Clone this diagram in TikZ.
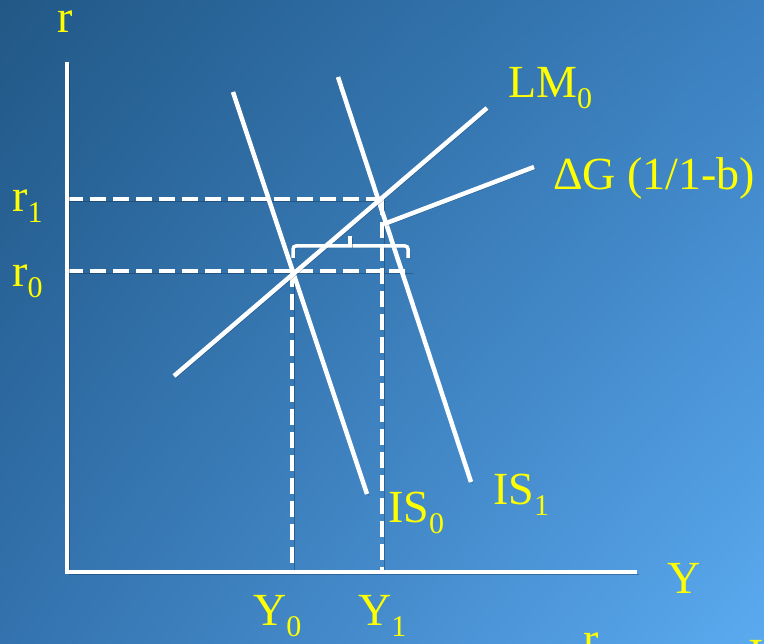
\documentclass[tikz,border=0pt]{standalone}
\usepackage{fontspec}
\setmainfont{Liberation Serif}
\usetikzlibrary{shadings}
\definecolor{bgTL}{HTML}{215886}
\definecolor{bgTR}{HTML}{3B80C0}
\definecolor{bgBL}{HTML}{3372AE}
\definecolor{bgBR}{HTML}{5BAAF0}
\definecolor{lab}{HTML}{FFFF00}
\definecolor{shd}{HTML}{0A2440}
\newcommand{\bigtxt}{\fontsize{46}{46}\selectfont}
\newcommand{\sbs}[1]{\raisebox{-11pt}{\fontsize{30}{30}\selectfont #1}}
\begin{document}
\begin{tikzpicture}[x=1pt,y=-1pt,
  curve/.style={draw=white,line width=4.5pt},
  guide/.style={draw=white,line width=4.5pt,dash pattern=on 16pt off 7pt},
  shadowed/.style={preaction={draw=shd,draw opacity=0.35,transform canvas={shift={(2pt,-2pt)}}}},
  lbl/.style={text=lab,font=\bigtxt,inner sep=0pt,anchor=base west}]
\useasboundingbox (0,0) rectangle (764,644);
\shade[upper left=bgTL,upper right=bgTR,lower left=bgBL,lower right=bgBR] (0,0) rectangle (764,644);
% coordinates
\coordinate (ytop) at (67,62);
\coordinate (org) at (67,572);
\coordinate (xend) at (637,572);
\coordinate (is0a) at (233,92);
\coordinate (is0b) at (367,494);
\coordinate (is1a) at (338,77);
\coordinate (is1b) at (471,482);
\coordinate (lma) at (174,376);
\coordinate (lmb) at (487,108);
\coordinate (dga) at (384,224);
\coordinate (dgb) at (534,167);
\coordinate (r1a) at (67,199);
\coordinate (r1b) at (383,199);
\coordinate (r0a) at (67,271);
\coordinate (r0b) at (411,271);
\coordinate (y0a) at (292,271);
\coordinate (y0b) at (292,572);
\coordinate (y1a) at (382,199);
\coordinate (y1b) at (382,572);
\coordinate (bl) at (293,258);
\coordinate (br) at (408,258);
\coordinate (bm) at (350,246);
\coordinate (bt) at (350,236);
% guides
\draw[guide,shadowed] (r1a) -- (r1b);
\draw[guide,shadowed] (r0a) -- (r0b);
\draw[guide,shadowed] (y0a) -- (y0b);
\draw[guide,shadowed] (y1a) -- (y1b);
% axes
\draw[curve,shadowed] (ytop) -- (org) -- (xend);
% curves
\draw[curve,shadowed] (is0a) -- (is0b);
\draw[curve,shadowed] (is1a) -- (is1b);
\draw[curve,shadowed] (lma) -- (lmb);
\draw[curve,shadowed] (dga) -- (dgb);
% bracket
\draw[curve,shadowed,line width=3.5pt,rounded corners=3pt] (bl) |- (bm) -| (br);
\draw[curve,shadowed,line width=3.5pt] (bm) -- (bt);
% labels
\node[lbl] (lr) at (57,33) {r};
\node[lbl] (lr1) at (12,212) {r\sbs{1}};
\node[lbl] (lr0) at (12,287) {r\sbs{0}};
\node[lbl] (llm) at (508,98) {LM\sbs{0}};
\node[lbl] (ldg) at (553,190) {ΔG (1/1-b)};
\node[lbl] (lis0) at (388,522) {IS\sbs{0}};
\node[lbl] (lis1) at (493,505) {IS\sbs{1}};
\node[lbl] (ly) at (667,593) {Y};
\node[lbl] (ly0) at (253,625) {Y\sbs{0}};
\node[lbl] (ly1) at (358,625) {Y\sbs{1}};
\node[lbl] (lrb) at (583,654) {r};
\node[lbl] (lib) at (748,670) {I};
\end{tikzpicture}
\end{document}
